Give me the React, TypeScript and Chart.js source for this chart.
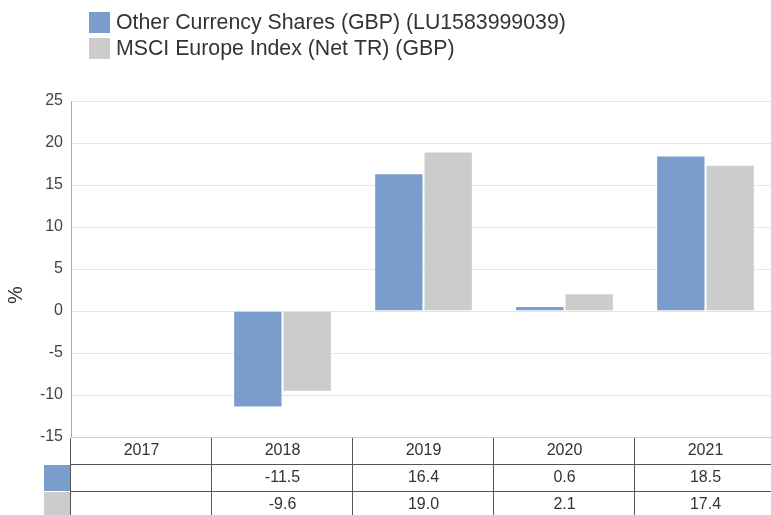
import React, { useEffect, useRef } from "react";
import { Chart, registerables } from "chart.js";

Chart.register(...registerables);

const categories = ["2017", "2018", "2019", "2020", "2021"];
const fundLabel = "Other Currency Shares (GBP) (LU1583999039)";
const indexLabel = "MSCI Europe Index (Net TR) (GBP)";
const fundValues: (number | null)[] = [null, -11.5, 16.4, 0.6, 18.5];
const indexValues: (number | null)[] = [null, -9.6, 19.0, 2.1, 17.4];
const yTicks = { min: -15, max: 25, step: 5 };

const BLUE = "#7a9ecb";
const GREY = "#cccccc";
const FONT = "'Liberation Sans', Arial, sans-serif";

const overlayPlugin = {
  id: "overlay",
  afterDraw(chart: any) {
    const ctx = chart.ctx as CanvasRenderingContext2D;
    const area = chart.chartArea;
    const xScale = chart.scales.x;
    const n = categories.length;
    const w = (area.right - area.left) / n;
    ctx.save();

    // Legend
    const legend = [
      { label: fundLabel, color: BLUE },
      { label: indexLabel, color: GREY },
    ];
    ctx.font = `21.3px ${FONT}`;
    ctx.textBaseline = "middle";
    ctx.textAlign = "left";
    legend.forEach((item, i) => {
      const y = 12 + i * 26;
      ctx.fillStyle = item.color;
      ctx.fillRect(89, y, 21, 21);
      ctx.fillStyle = "#333333";
      ctx.fillText(item.label, 116, y + 11);
    });

    // Y axis title
    ctx.save();
    ctx.translate(16, 295);
    ctx.rotate(-Math.PI / 2);
    ctx.textAlign = "center";
    ctx.textBaseline = "middle";
    ctx.font = `20px ${FONT}`;
    ctx.fillStyle = "#333333";
    ctx.fillText("%", 0, 0);
    ctx.restore();

    // Bottom line of plot area
    const top = Math.round(area.bottom);
    ctx.strokeStyle = "#cccccc";
    ctx.lineWidth = 1;
    ctx.beginPath();
    ctx.moveTo(area.left, top + 0.5);
    ctx.lineTo(area.right, top + 0.5);
    ctx.stroke();

    // Table
    const rowH = 27;
    const rows = [top, top + rowH, top + 2 * rowH, top + 3 * rowH];
    ctx.strokeStyle = "#555555";
    ctx.beginPath();
    for (let i = 0; i <= n; i++) {
      const x = Math.round(area.left + i * w) - 0.5;
      ctx.moveTo(x, top + 1);
      ctx.lineTo(x, chart.height);
    }
    ctx.moveTo(area.left, rows[1] + 0.5);
    ctx.lineTo(area.right, rows[1] + 0.5);
    ctx.moveTo(area.left, rows[2] + 0.5);
    ctx.lineTo(area.right, rows[2] + 0.5);
    ctx.stroke();

    // swatches
    ctx.fillStyle = BLUE;
    ctx.fillRect(44, rows[1] + 1, area.left - 45, rowH - 1);
    ctx.fillStyle = GREY;
    ctx.fillRect(44, rows[2] + 1, area.left - 45, rowH + 5);

    ctx.font = `16px ${FONT}`;
    ctx.fillStyle = "#333333";
    ctx.textAlign = "center";
    ctx.textBaseline = "middle";
    categories.forEach((c, i) => {
      const cx = xScale.getPixelForValue(i);
      ctx.fillText(c, cx, rows[0] + 14);
      const a = fundValues[i];
      const b = indexValues[i];
      if (a !== null) ctx.fillText(a.toFixed(1), cx, rows[1] + 14);
      if (b !== null) ctx.fillText(b.toFixed(1), cx, rows[2] + 14);
    });
    ctx.restore();
  },
};

export default function App() {
  const ref = useRef<HTMLCanvasElement | null>(null);
  useEffect(() => {
    document.body.style.margin = "0";
    const canvas = ref.current;
    if (!canvas) return;
    const chart = new Chart(canvas, {
      type: "bar",
      data: {
        labels: categories,
        datasets: [
          {
            label: fundLabel,
            data: fundValues,
            backgroundColor: BLUE,
            borderColor: "rgba(255,255,255,0.45)",
            borderWidth: 1,
            categoryPercentage: 0.7,
            barPercentage: 1.0,
          },
          {
            label: indexLabel,
            data: indexValues,
            backgroundColor: GREY,
            borderColor: "rgba(255,255,255,0.45)",
            borderWidth: 1,
            categoryPercentage: 0.7,
            barPercentage: 1.0,
          },
        ],
      },
      options: {
        responsive: false,
        animation: false,
        devicePixelRatio: 1,
        layout: { padding: { top: 101, bottom: 78, left: 0, right: 0 } },
        plugins: {
          legend: { display: false },
          tooltip: { enabled: false },
        },
        scales: {
          x: { display: false },
          y: {
            min: yTicks.min,
            max: yTicks.max,
            ticks: {
              stepSize: yTicks.step,
              font: { family: FONT, size: 16 },
              color: "#444444",
              padding: 8,
            },
            grid: { color: "#e6e6e6", drawTicks: false },
            border: { color: "#aaaaaa" },
            afterFit: (scale: any) => {
              scale.width = 71;
            },
          },
        },
      },
      plugins: [overlayPlugin],
    });
    return () => chart.destroy();
  }, []);
  return (
    <div style={{ width: 771, height: 515, overflow: "hidden" }}>
      <canvas ref={ref} width={776} height={515} style={{ display: "block" }} />
    </div>
  );
}
